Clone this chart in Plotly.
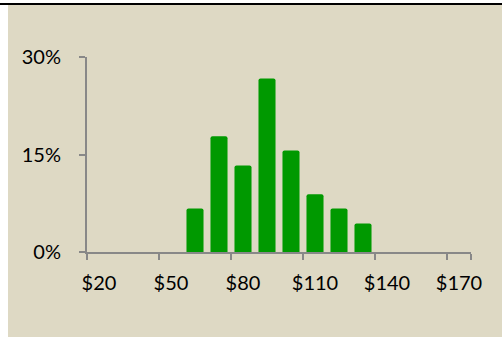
import plotly.graph_objects as go

categories = ["$20", "$30", "$40", "$50", "$60", "$70", "$80", "$90",
              "$100", "$110", "$120", "$130", "$140", "$150", "$160", "$170"]
shares = [0, 0, 0, 0, 6.7, 17.8, 13.3, 26.7, 15.6, 8.9, 6.7, 4.4, 0, 0, 0, 0]
x_tick_labels = ["$20", "$50", "$80", "$110", "$140", "$170"]
y_ticks = [0, 15, 30]
y_tick_labels = ["0%", "15%", "30%"]

W, H = 502, 337
L, R, T, B = 87, 31, 57, 85
pw, ph = W - L - R, H - T - B

def px(x):
    return (x - L) / pw

def py(y):
    return (H - B - y) / ph

fig = go.Figure(go.Bar(
    x=categories, y=shares,
    marker=dict(color="#009900", line=dict(width=0), cornerradius=2),
    hoverinfo="skip",
))

font = dict(family="Lato, 'Open Sans', sans-serif", size=20, color="#000000")

fig.update_layout(
    width=W, height=H,
    margin=dict(l=L, r=R, t=T, b=B, pad=0),
    paper_bgcolor="white",
    plot_bgcolor="rgba(0,0,0,0)",
    bargap=0.29,
    showlegend=False,
    font=font,
    shapes=[
        dict(type="rect", xref="paper", yref="paper", layer="below",
             x0=px(8), x1=px(W + 2), y0=py(5), y1=py(H + 2),
             fillcolor="#DED9C4", line=dict(width=0)),
        dict(type="line", xref="paper", yref="paper", layer="above",
             x0=px(-2), x1=px(W + 2), y0=py(4), y1=py(4),
             line=dict(color="black", width=2)),
    ],
    xaxis=dict(
        type="category", categoryorder="array", categoryarray=categories,
        range=[-0.5, len(categories) - 0.5],
        tickmode="array", tickvals=x_tick_labels, ticktext=x_tick_labels,
        tickangle=0,
        showgrid=False, zeroline=False,
        showline=True, linecolor="#888888", linewidth=2,
        ticks="outside", tickson="boundaries", ticklen=6, tickwidth=2, tickcolor="#888888",
        ticklabelstandoff=12,
        tickfont=font,
    ),
    yaxis=dict(
        range=[0, 30],
        tickmode="array", tickvals=y_ticks, ticktext=y_tick_labels,
        showgrid=False, zeroline=False,
        showline=True, linecolor="#888888", linewidth=2,
        ticks="outside", ticklen=6, tickwidth=2, tickcolor="#888888",
        ticklabelstandoff=14,
        tickfont=font,
    ),
)

fig.write_html("out.html")
